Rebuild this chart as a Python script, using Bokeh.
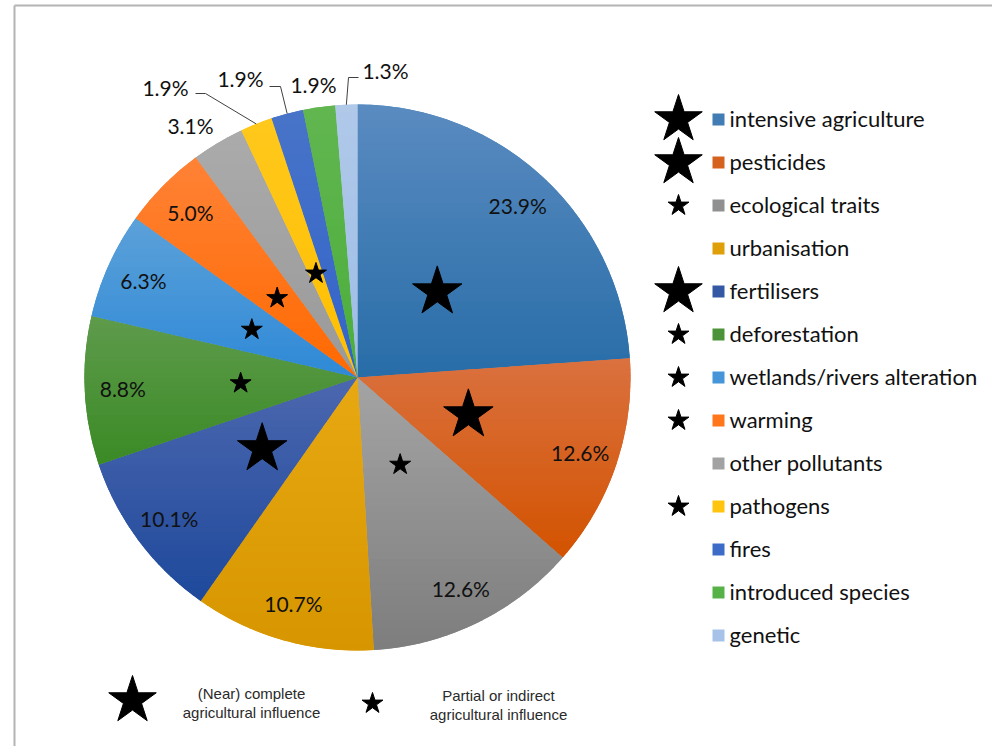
import math

from bokeh.core.properties import value
from bokeh.embed import file_html
from bokeh.models import ColumnDataSource, Range1d
from bokeh.plotting import figure
from bokeh.resources import INLINE

# ---------------------------------------------------------------- data
categories = [
    "intensive agriculture", "pesticides", "ecological traits", "urbanisation",
    "fertilisers", "deforestation", "wetlands/rivers alteration", "warming",
    "other pollutants", "pathogens", "fires", "introduced species", "genetic",
]
shares = [23.9, 12.6, 12.6, 10.7, 10.1, 8.8, 6.3, 5.0, 3.1, 1.9, 1.9, 1.9, 1.3]
# 2 = (near) complete agricultural influence, 1 = partial or indirect, 0 = none
influence = [2, 2, 1, 0, 2, 1, 1, 1, 0, 1, 0, 0, 0]
share_labels = [f"{v:.1f}%" for v in shares]

# ---------------------------------------------------------------- styles
# each slice is shaded from a lighter top to a darker bottom
color_top = [
    "#5A8BC0", "#DA713F", "#A4A4A4", "#E7A812", "#4C67AF", "#5E9B4C", "#5CA1D9",
    "#FF8236", "#ABABAB", "#FFC81C", "#4874C8", "#62B650", "#B0C9E9",
]
color_bottom = [
    "#286DA8", "#D35300", "#7D7D7D", "#D79600", "#1E499B", "#3B8A25", "#2E89D7",
    "#FF6900", "#999999", "#FFBF00", "#3263C9", "#4BAE3B", "#9DBCE6",
]

W, H = 992, 746
CX, CY, R = 357, 377, 273          # pie centre (pixels from top-left) and radius
FONT = "Lato"


def up(y):
    """Pixel row (from the top) -> plot y (upwards)."""
    return H - y


def hex_rgb(c):
    c = c.lstrip("#")
    return tuple(int(c[i:i + 2], 16) for i in (0, 2, 4))


def mix(c0, c1, t):
    a, b = hex_rgb(c0), hex_rgb(c1)
    return "#%02x%02x%02x" % tuple(round(a[i] + (b[i] - a[i]) * t) for i in range(3))


def clip_band(poly, lo, hi):
    """Clip a polygon to the horizontal band lo <= y <= hi."""
    def clip(pts, inside, cut):
        out = []
        n = len(pts)
        for i in range(n):
            cur, prev = pts[i], pts[i - 1]
            if inside(cur):
                if not inside(prev):
                    out.append(cut(prev, cur))
                out.append(cur)
            elif inside(prev):
                out.append(cut(prev, cur))
        return out

    def cut_at(yc):
        def f(a, b):
            t = (yc - a[1]) / (b[1] - a[1])
            return (a[0] + t * (b[0] - a[0]), yc)
        return f

    pts = clip(poly, lambda p: p[1] >= lo, cut_at(lo))
    if pts:
        pts = clip(pts, lambda p: p[1] <= hi, cut_at(hi))
    return pts


p = figure(
    width=W, height=H, x_range=Range1d(0, W), y_range=Range1d(0, H),
    x_axis_type=None, y_axis_type=None, output_backend="svg",
    toolbar_location=None, min_border=0,
)
p.outline_line_color = None
p.background_fill_color = "white"
p.border_fill_color = "white"

# page frame (top and left edges)
p.segment(x0=[14, 14], y0=[up(5), up(5)], x1=[W, 14], y1=[up(5), 0],
          line_color="#b4b4b4", line_width=2)

# ---------------------------------------------------------------- pie
total = sum(shares)
cum = [0.0]
for v in shares:
    cum.append(cum[-1] + v / total)
mid_frac = [(cum[i] + cum[i + 1]) / 2 for i in range(len(shares))]
color_mid = [mix(color_top[i], color_bottom[i], 0.5) for i in range(len(shares))]

pie = ColumnDataSource(dict(
    cat=categories,
    start=[math.pi / 2 - 2 * math.pi * cum[i] for i in range(len(shares))],
    end=[math.pi / 2 - 2 * math.pi * cum[i + 1] for i in range(len(shares))],
    color=color_mid,
))
p.wedge(x=CX, y=up(CY), radius=R, start_angle="start", end_angle="end",
        direction="clock", fill_color="color", line_color=None, source=pie)

# vertical shading of every slice, drawn as thin horizontal bands
band_xs, band_ys, band_col = [], [], []
for i in range(len(shares)):
    t0, t1 = 2 * math.pi * cum[i], 2 * math.pi * cum[i + 1]
    n_arc = max(8, int((t1 - t0) * 60))
    poly = [(CX, up(CY))] + [
        (CX + R * math.sin(t0 + (t1 - t0) * k / n_arc),
         up(CY) + R * math.cos(t0 + (t1 - t0) * k / n_arc))
        for k in range(n_arc + 1)
    ]
    ymin = min(q[1] for q in poly)
    ymax = max(q[1] for q in poly)
    nb = 36
    step = (ymax - ymin) / nb
    for b in range(nb):
        hi = ymax - b * step
        lo = hi - step - 0.7
        piece = clip_band(poly, max(lo, ymin), hi)
        if len(piece) < 3:
            continue
        band_xs.append([q[0] for q in piece])
        band_ys.append([q[1] for q in piece])
        band_col.append(mix(color_top[i], color_bottom[i], (b + 0.5) / nb))
p.patches(xs=band_xs, ys=band_ys, fill_color=band_col, line_color=None)

# influence stars inside slices
star_r = [117, 117, 97, 0, 119, 117, 116, 113, 0, 112, 0, 0, 0]
sx, sy, ss = [], [], []
for i, lvl in enumerate(influence):
    if lvl == 0:
        continue
    a = 2 * math.pi * mid_frac[i]
    sx.append(CX + star_r[i] * math.sin(a))
    sy.append(up(CY) + star_r[i] * math.cos(a))
    ss.append(52 if lvl == 2 else 22)
p.scatter(x=sx, y=sy, size=ss, marker="star", fill_color="black",
          line_color="black")

# percentage labels: inside ones along the slice bisector, small ones outside
LABEL_R = 235
outside = {8: (190, 125), 9: (165, 87), 10: (240, 78), 11: (313, 84), 12: (385, 70)}
lx, ly = [], []
for i in range(len(shares)):
    if i in outside:
        x, y = outside[i]
        lx.append(x)
        ly.append(up(y))
    else:
        a = 2 * math.pi * mid_frac[i]
        lx.append(CX + LABEL_R * math.sin(a))
        ly.append(up(CY) + LABEL_R * math.cos(a))
p.text(x=lx, y=ly, text=share_labels, text_font=value(FONT),
       text_font_size="21px", text_color="#111111", text_align="center",
       text_baseline="middle")

# leader lines from the small outer slices to their labels
elbows = {9: [(205, 93), (195, 93)], 10: [(280, 86), (269, 86)],
          12: [(348, 77), (358, 77)]}
lead_x, lead_y = [], []
for i, pts in elbows.items():
    a = 2 * math.pi * mid_frac[i]
    ex, ey = CX + R * math.sin(a), up(CY) + R * math.cos(a)
    lead_x.append([ex] + [q[0] for q in pts])
    lead_y.append([ey] + [up(q[1]) for q in pts])
p.multi_line(xs=lead_x, ys=lead_y, line_color="#404040", line_width=1)

# ---------------------------------------------------------------- legend
LEG_Y0, LEG_DY = 119, 43
leg_y = [up(LEG_Y0 + k * LEG_DY) for k in range(len(categories))]
p.rect(x=718, y=leg_y, width=12, height=12, fill_color=color_mid, line_color=None)
p.text(x=729, y=[v + 1.5 for v in leg_y], text=categories, text_font=value(FONT),
       text_font_size="22px", text_color="#111111", text_align="left",
       text_baseline="middle")
lsx = [678 for i, lvl in enumerate(influence) if lvl]
lsy = [leg_y[i] for i, lvl in enumerate(influence) if lvl]
lss = [50 if lvl == 2 else 22 for lvl in influence if lvl]
p.scatter(x=lsx, y=lsy, size=lss, marker="star", fill_color="black",
          line_color="black")

# key to the star symbols
p.scatter(x=[132, 372], y=[up(700), up(703)], size=[50, 22], marker="star",
          fill_color="black", line_color="black")
p.text(x=[251, 251, 498, 498], y=[up(693), up(712), up(695), up(714)],
       text=["(Near) complete", "agricultural influence",
             "Partial or indirect", "agricultural influence"],
       text_font=value("Liberation Sans"), text_font_size="15px",
       text_color="#2a2a2a", text_align="center", text_baseline="middle")

open("out.html", "w").write(file_html(p, INLINE))
